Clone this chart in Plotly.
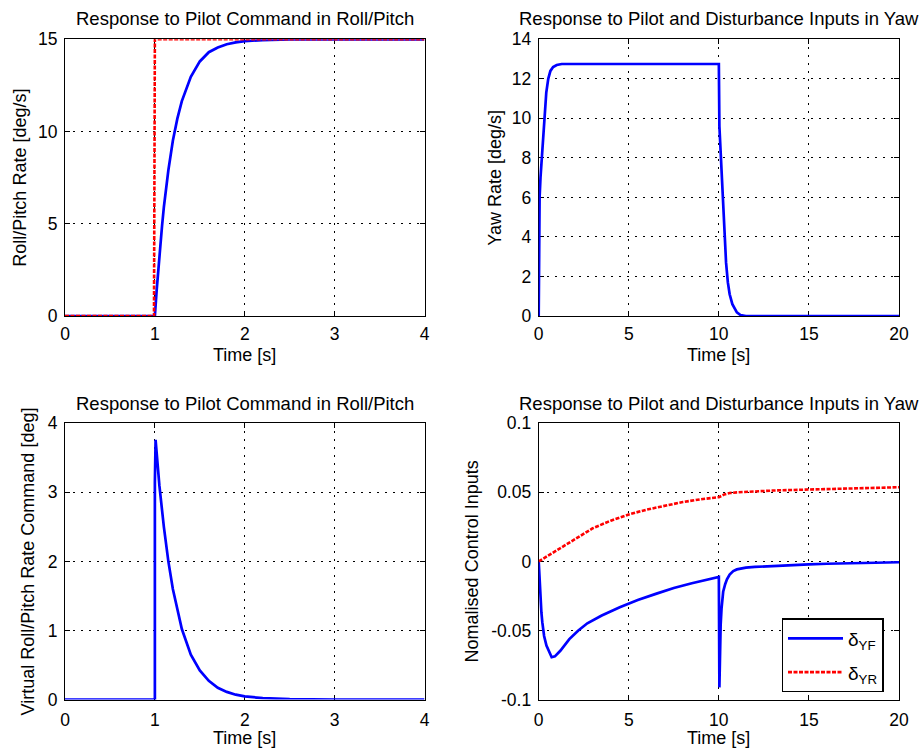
import plotly.graph_objects as go

# ---------------- data ----------------
# Top-left: roll/pitch rate response (deg/s)
rp_cmd_t = [0, 0.99, 1.0, 4.0]
rp_cmd = [0, 0, 15, 15]
rp_t = [0, 1.0, 1.02, 1.05, 1.08, 1.1, 1.15, 1.2, 1.25, 1.3, 1.4, 1.5, 1.6, 1.7, 1.8, 1.9, 2.0, 2.2, 2.5, 3.0, 4.0]
rp_rate = [0, 0, 1.4, 3.3, 4.9, 5.9, 7.9, 9.5, 10.7, 11.65, 12.97, 13.8, 14.3, 14.55, 14.73, 14.83, 14.9, 14.96, 14.99, 15.0, 15.0]

# Top-right: yaw rate (deg/s)
yaw_t = [0, 0.02, 0.05, 0.1, 0.17, 0.23, 0.29, 0.35, 0.42, 0.53, 0.65, 0.8, 1.0, 1.28, 10.0, 10.03,
         10.06, 10.11, 10.2, 10.3, 10.4, 10.5, 10.6, 10.75, 10.9, 11.0, 11.2, 11.5, 20.0]
yaw_rate = [0, 3.5, 6.0, 7.0, 8.0, 9.0, 10.0, 10.7, 11.3, 12.0, 12.4, 12.6, 12.7, 12.75, 12.75, 9.6,
            9.0, 8.0, 5.9, 4.0, 2.7, 1.7, 1.1, 0.6, 0.3, 0.18, 0.05, 0.0, 0.0]

# Bottom-left: virtual roll/pitch rate command (deg)
vc_t = [0, 1.0, 1.0, 1.008, 1.05, 1.1, 1.15, 1.2, 1.3, 1.4, 1.5, 1.6, 1.7, 1.8, 1.9, 2.0, 2.2, 2.5, 3.0, 4.0]
vc_cmd = [0, 0, 3.15, 3.76, 3.1, 2.5, 2.0, 1.6, 1.02, 0.65, 0.42, 0.27, 0.17, 0.11, 0.07, 0.045, 0.02, 0.005, 0, 0]

# Bottom-right: normalised control inputs
yf_t = [0, 0.03, 0.06, 0.1, 0.15, 0.2, 0.3, 0.43, 0.6, 0.72, 0.9, 1.2, 1.7, 2.2, 2.7, 3.5, 4.5, 5.5, 6.5,
        7.5, 8.5, 9.5, 10.0, 10.03, 10.06, 10.1, 10.15, 10.24, 10.35, 10.45, 10.6, 10.8, 11.0, 11.5,
        12, 13, 14, 15, 16, 17, 18, 19, 20]
yf = [0, -0.01, -0.017, -0.027, -0.037, -0.044, -0.054, -0.061, -0.0665, -0.0694, -0.0688, -0.0647,
      -0.0563, -0.05, -0.0448, -0.0392, -0.0332, -0.028, -0.0235, -0.0193, -0.0158, -0.0127, -0.0113,
      -0.0912, -0.065, -0.046, -0.034, -0.022, -0.0165, -0.013, -0.0095, -0.007, -0.0058, -0.0045,
      -0.004, -0.0032, -0.0026, -0.0021, -0.0017, -0.0013, -0.001, -0.0008, -0.0006]
yr_t = [0, 0.5, 1, 1.5, 2, 2.5, 3, 4, 5, 6, 7, 8, 9, 10, 10.3, 10.6, 11, 12, 13, 14, 15, 16, 17, 18, 19, 20]
yr = [0, 0.004, 0.008, 0.012, 0.0165, 0.0205, 0.024, 0.0295, 0.034, 0.0375, 0.0405, 0.043, 0.045,
      0.0465, 0.0485, 0.0495, 0.050, 0.0508, 0.0513, 0.0517, 0.052, 0.0525, 0.053, 0.0532, 0.0535, 0.0537]

# tick labels
br_tickvals = [-0.1, -0.05, 0, 0.05, 0.1]
br_ticktext = ["-0.1", "-0.05", "0", "0.05", "0.1"]

titles = ["Response to Pilot Command in Roll/Pitch", "Response to Pilot and Disturbance Inputs in Yaw",
          "Response to Pilot Command in Roll/Pitch", "Response to Pilot and Disturbance Inputs in Yaw"]
ylabels = ["Roll/Pitch Rate [deg/s]", "Yaw Rate [deg/s]", "Virtual Roll/Pitch Rate Command [deg]",
           "Nomalised Control Inputs"]
xlabel = "Time [s]"

# ---------------- layout helpers ----------------
W, H = 924, 751
FONT = "Liberation Sans, Arial, sans-serif"
BLUE = "#0000ff"
RED = "#ff0000"

def px(p):
    return p / W

def py(p):
    return 1 - p / H

boxes = {
    1: (65, 424.5, 39.3, 316),
    2: (538.7, 899, 39.3, 316),
    3: (65, 424.5, 423.3, 699.5),
    4: (538.7, 899, 423.3, 699.5),
}

fig = go.Figure()

fig.add_trace(go.Scatter(x=rp_t, y=rp_rate, mode="lines", line=dict(color=BLUE, width=2.7),
                         xaxis="x", yaxis="y", showlegend=False))
fig.add_trace(go.Scatter(x=rp_cmd_t, y=rp_cmd, mode="lines", line=dict(color=RED, width=2.6, dash="4px,1.5px"),
                         xaxis="x", yaxis="y", showlegend=False))
fig.add_trace(go.Scatter(x=yaw_t, y=yaw_rate, mode="lines", line=dict(color=BLUE, width=2.7),
                         xaxis="x2", yaxis="y2", showlegend=False))
fig.add_trace(go.Scatter(x=vc_t, y=vc_cmd, mode="lines", line=dict(color=BLUE, width=2.7),
                         xaxis="x3", yaxis="y3", showlegend=False))
fig.add_trace(go.Scatter(x=yf_t, y=yf, mode="lines", line=dict(color=BLUE, width=2.7),
                         xaxis="x4", yaxis="y4", name="δ<sub>YF</sub>", legendgroup="a"))
fig.add_trace(go.Scatter(x=yr_t, y=yr, mode="lines", line=dict(color=RED, width=2.6, dash="4px,1.5px"),
                         xaxis="x4", yaxis="y4", name="δ<sub>YR</sub>", legendgroup="b"))

common = dict(showline=True, linecolor="black", linewidth=1, mirror="ticks", ticks="inside",
              ticklen=5, tickcolor="black", showgrid=True, gridcolor="black", gridwidth=1.3,
              griddash="2px,6px", zeroline=False, tickfont=dict(family=FONT, size=17.5, color="black"),
              layer="below traces", automargin=False)

xranges = {1: [0, 4], 2: [0, 20], 3: [0, 4], 4: [0, 20]}
xdt = {1: 1, 2: 5, 3: 1, 4: 5}
yranges = {1: [0, 15], 2: [0, 14], 3: [0, 4], 4: [-0.1, 0.1]}
ydt = {1: 5, 2: 2, 3: 1, 4: 0.05}

layout = dict(width=W, height=H, autosize=False,
              margin=dict(l=0, r=0, t=0, b=0, pad=0, autoexpand=False),
              paper_bgcolor="white", plot_bgcolor="white", font=dict(family=FONT, color="black"))
xstand = {1: 2, 2: 2, 3: 4, 4: 4}
for i in range(1, 5):
    x0, x1, y0, y1 = boxes[i]
    sx = "" if i == 1 else str(i)
    xa = dict(common, domain=[px(x0), px(x1)], range=xranges[i], dtick=xdt[i], tick0=0,
              anchor="y" + sx, ticklabelstandoff=xstand[i])
    ya = dict(common, domain=[py(y1), py(y0)], range=yranges[i], dtick=ydt[i], tick0=0,
              anchor="x" + sx, ticklabelstandoff=3)
    if i == 4:
        ya.update(tickmode="array", tickvals=br_tickvals, ticktext=br_ticktext)
    layout["xaxis" + sx] = xa
    layout["yaxis" + sx] = ya

annotations = []
title_y = {1: 19, 2: 19, 3: 403, 4: 403}
xlab_y = {1: 355, 2: 355, 3: 738, 4: 738}
ylab_x = {1: 20, 2: 495, 3: 28, 4: 472}
for i in range(1, 5):
    x0, x1, y0, y1 = boxes[i]
    cx = (x0 + x1) / 2
    cy = (y0 + y1) / 2
    annotations.append(dict(text=titles[i - 1], x=px(cx), y=py(title_y[i]), xref="paper", yref="paper",
                            xanchor="center", yanchor="middle", showarrow=False,
                            font=dict(family=FONT, size=18.5, color="black")))
    annotations.append(dict(text=xlabel, x=px(cx), y=py(xlab_y[i]), xref="paper", yref="paper",
                            xanchor="center", yanchor="middle", showarrow=False,
                            font=dict(family=FONT, size=18, color="black")))
    annotations.append(dict(text=ylabels[i - 1], x=px(ylab_x[i]), y=py(cy), xref="paper", yref="paper",
                            xanchor="center", yanchor="middle", showarrow=False, textangle=-90,
                            font=dict(family=FONT, size=18, color="black")))
layout["annotations"] = annotations

layout["legend"] = dict(x=px(781.7), y=py(618.3), xanchor="left", yanchor="top",
                        bgcolor="white", bordercolor="black", borderwidth=1.3,
                        font=dict(family=FONT, size=19, color="black"), itemwidth=55,
                        traceorder="grouped", tracegroupgap=6)

fig.update_layout(**layout)
fig.write_html("out.html", config={"displayModeBar": False},
               post_script="document.documentElement.style.margin='0';document.body.style.margin='0';"
                           "document.body.style.overflow='hidden';")
